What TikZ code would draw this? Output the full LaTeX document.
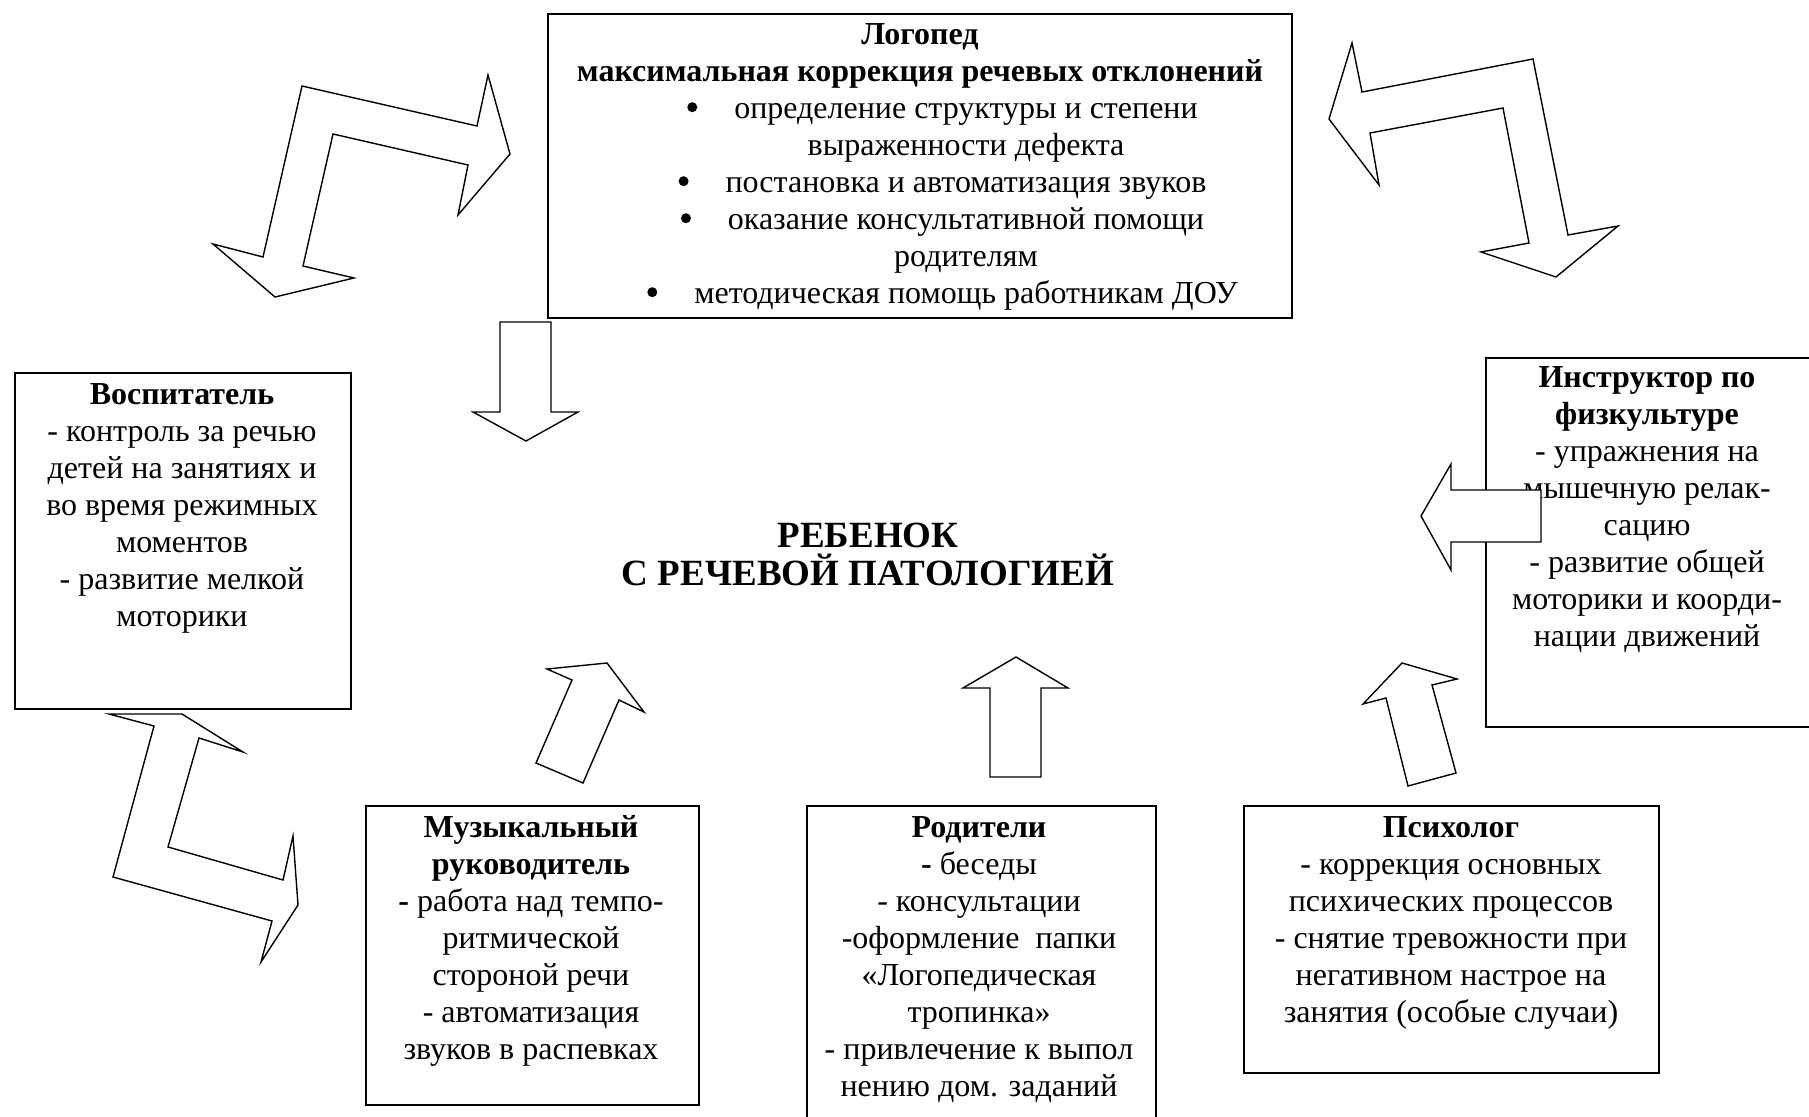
\documentclass[tikz,border=0pt]{standalone}
\usepackage{fontspec}
\setmainfont{Liberation Serif}
\newcommand{\mybul}{\llap{\tikz[baseline=0pt]\fill (0pt,11pt) circle[radius=5pt];\hspace{37pt}}}
\begin{document}
\begin{tikzpicture}[x=1pt,y=-1pt,
  box/.style={draw, line width=2.3pt, inner sep=0pt, anchor=north west},
  blk/.style={draw, line width=1.4pt, fill=white, line join=miter},
  txt/.style={inner sep=0pt, anchor=north, align=center, font=\fontsize{32}{37}\selectfont},
  big/.style={inner sep=0pt, anchor=north, align=center, font=\fontsize{37}{38}\selectfont\bfseries}]
\useasboundingbox (0,0) rectangle (1809,1116);
\clip (0,0) rectangle (1809,1116);

% boxes
\node[box, minimum width=744pt, minimum height=304pt] (log) at (547,13) {};
\node[box, minimum width=336pt, minimum height=336pt] (vosp) at (14,372) {};
\node[box, minimum width=327pt, minimum height=369pt] (instr) at (1485,357) {};
\node[box, minimum width=333pt, minimum height=299pt] (muz) at (365,805) {};
\node[box, minimum width=349pt, minimum height=330pt] (rod) at (806,805) {};
\node[box, minimum width=415pt, minimum height=267pt] (psy) at (1243,805) {};

% texts
\node[txt] (logt) at (920,14) {\rule{0pt}{30pt}\textbf{Логопед}\\
\textbf{максимальная коррекция речевых отклонений}\\
\hspace*{92pt}\mybul определение структуры и степени\\
\hspace*{92pt}выраженности дефекта\\
\hspace*{92pt}\mybul постановка и автоматизация звуков\\
\hspace*{92pt}\mybul оказание консультативной помощи\\
\hspace*{92pt}родителям\\
\hspace*{92pt}\mybul методическая помощь работникам ДОУ};

\node[txt] (vospt) at (182,374) {\rule{0pt}{30pt}\textbf{Воспитатель}\\
- контроль за речью\\
детей на занятиях и\\
во время режимных\\
моментов\\
- развитие мелкой\\
моторики};

\node[txt] (instrt) at (1647,357) {\rule{0pt}{30pt}\textbf{Инструктор по}\\
\textbf{физкультуре}\\
- упражнения на\\
мышечную релак-\\
сацию\\
- развитие общей\\
моторики и коорди-\\
нации движений};

\node[txt] (muzt) at (531,807) {\rule{0pt}{30pt}\textbf{Музыкальный}\\
\textbf{руководитель}\\
\textbf{-} работа над темпо-\\
ритмической\\
стороной речи\\
- автоматизация\\
звуков в распевках};

\node[txt] (rodt) at (979,807) {\rule{0pt}{30pt}\textbf{Родители}\\
\textbf{-} беседы\\
- консультации\\
-оформление\ \ папки\\
«Логопедическая\\
тропинка»\\
- привлечение к выпол\\
нению дом. заданий};

\node[txt] (psyt) at (1451,807) {\rule{0pt}{30pt}\textbf{Психолог}\\
- коррекция основных\\
психических процессов\\
- снятие тревожности при\\
негативном настрое на\\
занятия (особые случаи)};

\node[big] (child) at (868,513) {\rule{0pt}{34pt}РЕБЕНОК\\
С РЕЧЕВОЙ ПАТОЛОГИЕЙ};

% block arrows
\draw[blk] (302,86) -- (477,126) -- (488,75) -- (510,154) -- (458,215) -- (468,165)
  -- (333,134) -- (303,266) -- (354,278) -- (275,297) -- (213,244) -- (263,257) -- cycle;
\draw[blk] (1329,119) -- (1352,43) -- (1362,92) -- (1533,59) -- (1568,235) -- (1618,226)
  -- (1556,277) -- (1481,252) -- (1529,243) -- (1503,108) -- (1370,133) -- (1379,185) -- cycle;
\draw[blk] (109,714) -- (182,714) -- (243,752) -- (199,738) -- (168,847) -- (283,880)
  -- (293,836) -- (298,905) -- (261,962) -- (272,921) -- (113,877) -- (154,726) -- cycle;
\draw[blk] (500,322) -- (551,322) -- (551,412) -- (578,412) -- (526,441) -- (473,412) -- (500,412) -- cycle;
\draw[blk] (547,669) -- (607,663) -- (644,712) -- (619,700) -- (583,783) -- (536,763) -- (572,680) -- cycle;
\draw[blk] (1016,657) -- (1068,688) -- (1041,688) -- (1041,777) -- (990,777) -- (990,688) -- (963,688) -- cycle;
\draw[blk] (1402,663) -- (1457,679) -- (1432,685) -- (1456,773) -- (1408,786) -- (1386,698) -- (1363,704) -- cycle;
\draw[blk] (1421,516) -- (1451,464) -- (1451,490) -- (1541,490) -- (1541,542) -- (1451,542) -- (1451,570) -- cycle;
\end{tikzpicture}
\end{document}
